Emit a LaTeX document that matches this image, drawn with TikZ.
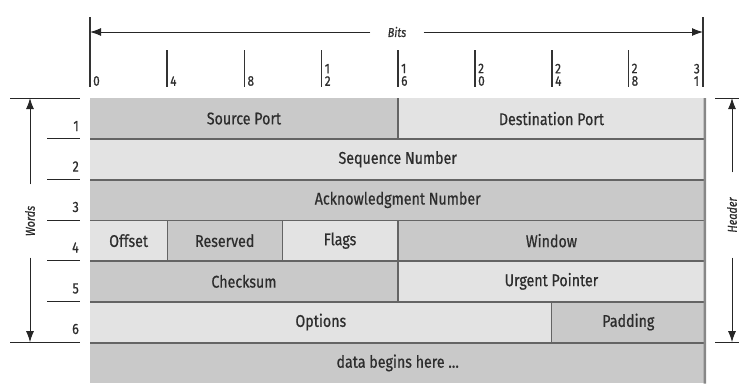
\documentclass[tikz,border=0pt]{standalone}
\usepackage{fontspec}
\setmainfont{Fira Sans}[FakeStretch=0.84, FakeBold=0.6]
\usetikzlibrary{arrows.meta}
\definecolor{dk}{RGB}{201,201,201}
\definecolor{lt}{RGB}{227,227,227}
\definecolor{ln}{RGB}{100,100,100}
\definecolor{tx}{RGB}{45,45,45}
\definecolor{edge}{RGB}{135,135,135}
\begin{document}
\begin{tikzpicture}[x=1bp,y=-1bp,
  cell/.style={anchor=north west, inner sep=0pt, minimum height=40.7bp, text=tx,
    font=\fontsize{17}{20}\selectfont},
  sep/.style={draw=ln, line width=1.8bp},
  vsep/.style={draw=ln, line width=1.4bp},
  axis/.style={draw=black!85, line width=1bp},
  tick/.style={draw=black!80, line width=1.4bp},
  tip/.style={-{Latex[length=11bp,width=8bp]}},
  bitlbl/.style={font=\fontsize{14}{12.5}\selectfont, text=tx, inner sep=0pt, align=left},
  num/.style={font=\fontsize{15}{15}\selectfont, text=tx, inner sep=0pt, anchor=east},
  axlbl/.style={font=\itshape\fontsize{13}{13}\selectfont, text=tx, inner sep=0pt}
]
\useasboundingbox (0,0) rectangle (739,383);

% ---- fields
\node[cell, fill=dk, minimum width=307.5bp] (sp) at (90,98) {Source Port};
\node[cell, fill=lt, minimum width=307.5bp] (dp) at (397.5,98) {Destination Port};
\node[cell, fill=lt, minimum width=615bp] (sn) at (90,138.7) {Sequence Number};
\node[cell, fill=dk, minimum width=615bp] (an) at (90,179.4) {Acknowledgment Number};
\node[cell, fill=lt, minimum width=76.875bp] (of) at (90,220.1) {Offset};
\node[cell, fill=dk, minimum width=115.3125bp] (rs) at (166.875,220.1) {Reserved};
\node[cell, fill=lt, minimum width=115.3125bp] (fl) at (282.1875,220.1) {Flags};
\node[cell, fill=dk, minimum width=307.5bp] (wn) at (397.5,220.1) {Window};
\node[cell, fill=dk, minimum width=307.5bp] (ck) at (90,260.8) {Checksum};
\node[cell, fill=lt, minimum width=307.5bp] (up) at (397.5,260.8) {Urgent Pointer};
\node[cell, fill=lt, minimum width=461.25bp] (op) at (90,301.5) {Options};
\node[cell, fill=dk, minimum width=153.75bp] (pd) at (551.25,301.5) {Padding};
\node[cell, fill=dk, minimum width=615bp, minimum height=41bp] (db) at (90,342.2) {data begins here \dots};

% ---- separators
\draw[sep] (sp.south west) -- (dp.south east);
\draw[sep] (sn.south west) -- (sn.south east);
\draw[sep] (an.south west) -- (an.south east);
\draw[sep] (of.south west) -- (wn.south east);
\draw[sep] (ck.south west) -- (up.south east);
\draw[sep] (op.south west) -- (pd.south east);
\draw[vsep] (sp.north east) -- (sp.south east);
\draw[vsep] (of.north east) -- (of.south east);
\draw[vsep] (rs.north east) -- (rs.south east);
\draw[vsep] (fl.north east) -- (fl.south east);
\draw[vsep] (ck.north east) -- (ck.south east);
\draw[vsep] (op.north east) -- (op.south east);
\draw[draw=edge, line width=2.6bp] ([xshift=-0.5bp]dp.north east) -- ([xshift=-0.5bp]db.south east);

% ---- bit ruler
\node[axlbl, minimum width=53bp] (bits) at (397,32) {Bits};
\coordinate (bL) at (90,32);
\coordinate (bR) at (703,32);
\draw[axis, tip] (bits.west) -- (bL);
\draw[axis, tip] (bits.east) -- (bR);
\draw[tick] (90,17) -- (90,87);
\draw[tick] (703,17) -- (703,87);
\foreach \x in {167.1,244.4,321.6,398,475,552,628.5}
  \draw[tick] (\x,50) -- (\x,87);
\node[bitlbl, anchor=south west] (l0) at (93,86) {0};
\node[bitlbl, anchor=south west] (l4) at (170.1,86) {4};
\node[bitlbl, anchor=south west] (l8) at (247.4,86) {8};
\node[bitlbl, anchor=south west] (l12) at (324.6,86) {1\\2};
\node[bitlbl, anchor=south west] (l16) at (401,86) {1\\6};
\node[bitlbl, anchor=south west] (l20) at (478,86) {2\\0};
\node[bitlbl, anchor=south west] (l24) at (555,86) {2\\4};
\node[bitlbl, anchor=south west] (l28) at (631.5,86) {2\\8};
\node[bitlbl, anchor=south east] (l31) at (700,86) {3\\1};

% ---- words axis
\draw[axis] (10,98) -- (80,98);
\draw[axis] (10,342.2) -- (80,342.2);
\foreach \y in {138.7,179.4,220.1,260.8,301.5}
  \draw[axis] (47,\y) -- (80,\y);
\node[axlbl, rotate=90, minimum width=73bp] (words) at (30,221) {Words};
\coordinate (wT) at (30,98);
\coordinate (wB) at (30,342.2);
\draw[axis, tip] (words.east) -- (wT);
\draw[axis, tip] (words.west) -- (wB);
\node[num] (n1) at (79,126) {1};
\node[num] (n2) at (79,166.5) {2};
\node[num] (n3) at (79,207) {3};
\node[num] (n4) at (79,247.5) {4};
\node[num] (n5) at (79,288.5) {5};
\node[num] (n6) at (79,329) {6};

% ---- header axis
\draw[axis] (715,98) -- (739,98);
\draw[axis] (715,342.2) -- (739,342.2);
\node[axlbl, rotate=90, minimum width=85bp] (hdr) at (732,215) {Header};
\coordinate (hT) at (732,98);
\coordinate (hB) at (732,342.2);
\draw[axis, tip] (hdr.east) -- (hT);
\draw[axis, tip] (hdr.west) -- (hB);
\end{tikzpicture}
\end{document}
